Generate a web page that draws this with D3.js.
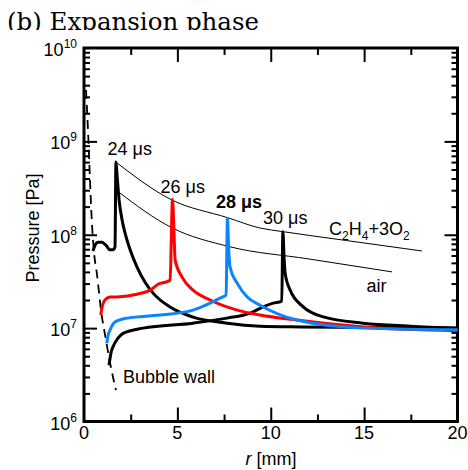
<!DOCTYPE html>
<html>
<head>
<meta charset="utf-8">
<script src="https://cdn.jsdelivr.net/npm/d3@7"></script>
<style>
  body { margin: 0; background: #fff; }
  svg { display: block; }
  text { font-family: "Liberation Sans", Arial, sans-serif; fill: #000; }
</style>
</head>
<body>
<svg id="chart" width="468" height="470"></svg>
<script>
// pressure profiles, [r (mm), P (Pa)]
var t24 = [[0.48,6.7e7],[0.59,7.7e7],[0.75,8.3e7],[0.96,8.3e7],[1.18,7.7e7],[1.39,6.9e7],[1.55,6.9e7],[1.66,7.4e7],
  [1.71,6.0e8],[1.77,4.35e8],[1.88,2.35e8],[2.04,1.44e8],[2.2,1.04e8],[2.47,6.9e7],[2.84,4.5e7],[3.27,3.1e7],
  [3.7,2.37e7],[4.61,1.68e7],[5.84,1.31e7],[7.66,1.13e7],[9.43,1.05e7],[11.6,1.03e7],[20,1.0e7]];
var t26 = [[0.9,1.38e7],[0.96,1.64e7],[1.12,2.0e7],[1.39,2.15e7],[1.77,2.16e7],[2.84,2.31e7],[3.54,2.55e7],
  [3.97,2.95e7],[4.45,3.15e7],[4.61,3.27e7],[4.74,2.38e8],[4.82,1.04e8],[4.88,5.35e7],[5.25,3.52e7],[5.84,2.55e7],
  [6.75,2.0e7],[8.2,1.56e7],[9.43,1.38e7],[11.4,1.22e7],[14.95,1.03e7],[20,9.4e6]];
var t28 = [[1.22,6.9e6],[1.29,8.4e6],[1.39,9.5e6],[1.66,1.16e7],[2.3,1.28e7],[4.07,1.38e7],[5.84,1.56e7],
  [6.75,1.85e7],[7.29,2.1e7],[7.61,2.26e7],[7.68,1.5e8],[7.75,6.9e7],[7.82,4.5e7],[8.2,3.03e7],[8.74,2.15e7],
  [9.43,1.76e7],[11.4,1.22e7],[14.95,1.0e7],[20,9.6e6]];
var t30 = [[1.34,4.0e6],[1.45,5.5e6],[1.55,6.3e6],[1.82,7.8e6],[2.09,8.8e6],[3.16,1.0e7],[5.84,1.13e7],
  [7.66,1.28e7],[8.9,1.45e7],[9.59,1.69e7],[10.13,1.85e7],[10.59,1.95e7],[10.65,1.08e8],[10.72,5.35e7],
  [10.77,3.88e7],[11.04,2.55e7],[11.74,1.69e7],[12.81,1.32e7],[14.95,1.13e7],[17.47,1.05e7],[20,1.0e7]];
var wall = [[0.107,3.55e9],[0.214,1.32e9],[0.32,3.86e8],[0.43,1.27e8],[0.536,6.5e7],[0.7,3.7e7],
  [0.91,1.56e7],[1.18,7.4e6],[1.39,4.3e6],[1.71,2.17e6]];
var envC2H4 = [[1.71,6.0e8],[4.72,2.35e8],[7.66,1.53e8],[9.43,1.18e8],[10.65,1.08e8],[14,8.7e7],[18.1,6.7e7]];
var envAir = [[1.84,2.88e8],[4.7,1.19e8],[7.82,7.43e7],[12,5.52e7],[16.5,4.0e7]];

var rMajor = [0, 5, 10, 15, 20];
var rMinor = [2.5, 7.5, 12.5, 17.5];
var pMajor = [1e6, 1e7, 1e8, 1e9, 1e10];
var pExp = ["6", "7", "8", "9", "10"];

var svg = d3.select("#chart");
var x = d3.scaleLinear().domain([0, 20]).range([84, 457.5]);
var y = d3.scaleLog().domain([1e6, 1e10]).range([421.5, 48]);

var pMinor = [];
[1e6, 1e7, 1e8, 1e9].forEach(function (d) {
  for (var k = 2; k <= 9; k++) pMinor.push(d * k);
});

// title, clipped at the bottom like the original
svg.append("clipPath").attr("id", "tclip")
  .append("rect").attr("x", 0).attr("y", 0).attr("width", 468).attr("height", 30);
svg.append("text")
  .attr("clip-path", "url(#tclip)")
  .attr("x", 7).attr("y", 30)
  .style("font-family", "'DejaVu Serif', 'Liberation Serif', serif")
  .style("font-size", "24px")
  .attr("textLength", 252)
  .attr("lengthAdjust", "spacingAndGlyphs")
  .text("(b) Expansion phase");

// ticks
var g = svg.append("g");
function ticks(axis, vals, size, tr) {
  g.append("g").attr("transform", tr)
    .call(axis.tickValues(vals).tickSize(-size).tickFormat(""))
    .call(function (s) {
      s.select(".domain").remove();
      s.selectAll("line").attr("stroke", "#000").attr("stroke-width", 2);
    });
}
ticks(d3.axisBottom(x), rMajor.slice(1, 4), 14, "translate(0,421.5)");
ticks(d3.axisBottom(x), rMinor, 7, "translate(0,421.5)");
ticks(d3.axisTop(x), rMajor.slice(1, 4), 14, "translate(0,48)");
ticks(d3.axisTop(x), rMinor, 7, "translate(0,48)");
ticks(d3.axisLeft(y), pMajor.slice(1, 4), 13, "translate(84,0)");
ticks(d3.axisLeft(y), pMinor, 6, "translate(84,0)");
ticks(d3.axisRight(y), pMajor.slice(1, 4), 13, "translate(457.5,0)");
ticks(d3.axisRight(y), pMinor, 6, "translate(457.5,0)");

// frame
svg.append("rect")
  .attr("x", 84).attr("y", 48).attr("width", 373.5).attr("height", 373.5)
  .attr("fill", "none").attr("stroke", "#000").attr("stroke-width", 3);

// tick labels
svg.selectAll(".ylab").data(pMajor).enter().append("text")
  .attr("class", "ylab")
  .attr("x", 77).attr("y", function (d) { return y(d) + 8; })
  .attr("text-anchor", "end")
  .style("font-size", "18px")
  .each(function (d, i) {
    var t = d3.select(this);
    t.append("tspan").text("10");
    t.append("tspan").attr("dy", -8).style("font-size", "12px").text(pExp[i]);
  });

svg.selectAll(".xlab").data(rMajor).enter().append("text")
  .attr("class", "xlab")
  .attr("x", function (d) { return x(d); }).attr("y", 438.5)
  .attr("text-anchor", "middle")
  .style("font-size", "18px")
  .text(function (d) { return d; });

var xt = svg.append("text").attr("x", 271).attr("y", 465)
  .attr("text-anchor", "middle").style("font-size", "18px");
xt.append("tspan").style("font-style", "italic").text("r");
xt.append("tspan").text(" [mm]");

svg.append("text")
  .attr("transform", "translate(39,228) rotate(-90)")
  .attr("text-anchor", "middle")
  .style("font-size", "18px")
  .text("Pressure [Pa]");

// curves
var line = d3.line()
  .x(function (d) { return x(d[0]); })
  .y(function (d) { return y(d[1]); })
  .curve(d3.curveMonotoneX);

function curve(data, color, width, dash) {
  svg.append("path").datum(data)
    .attr("d", line)
    .attr("fill", "none")
    .attr("stroke", color)
    .attr("stroke-width", width)
    .attr("stroke-linejoin", "round")
    .attr("stroke-dasharray", dash || null);
}
curve(envC2H4, "#000", 1);
curve(envAir, "#000", 1);
curve(wall, "#000", 1.8, "9,6");
curve(t24, "#000", 3);
curve(t30, "#000", 3);
curve(t26, "#ff0000", 3);
curve(t28, "#0a84ff", 3);

// annotations
function label(tx, ty, s, bold) {
  return svg.append("text").attr("x", tx).attr("y", ty)
    .style("font-size", "18px")
    .style("font-weight", bold ? "bold" : "normal")
    .text(s);
}
label(107.5, 155, "24 μs");
label(160.5, 192.5, "26 μs");
label(216, 208, "28 μs", true);
label(263, 224, "30 μs");
label(366.5, 291.5, "air");
label(123, 383, "Bubble wall");

var cl = svg.append("text").attr("x", 329).attr("y", 235).style("font-size", "18px");
[["C", 0], ["2", 1], ["H", 0], ["4", 1], ["+3O", 0], ["2", 1]].forEach(function (p, i, arr) {
  var prev = i > 0 ? arr[i - 1][1] : 0;
  cl.append("tspan")
    .attr("dy", (p[1] - prev) * 5)
    .style("font-size", p[1] ? "12px" : "18px")
    .text(p[0]);
});
</script>
</body>
</html>
